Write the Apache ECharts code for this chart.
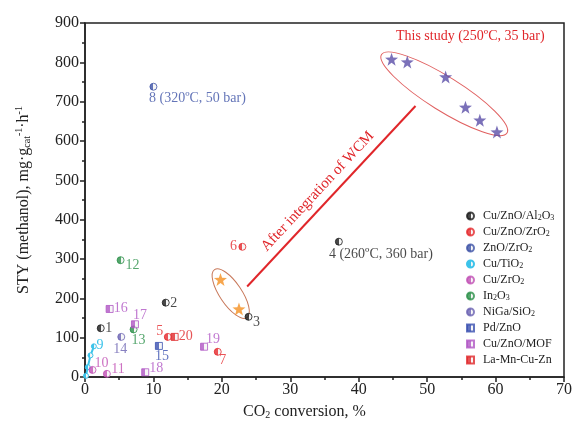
<!DOCTYPE html>
<html>
<head>
<meta charset="utf-8">
<script src="https://cdn.jsdelivr.net/npm/echarts@6/dist/echarts.min.js"></script>
<style>
html, body { margin: 0; padding: 0; background: #fff; }
#main { width: 575px; height: 425px; }
</style>
</head>
<body>
<div id="main"></div>
<script>
// [CO2 conversion %, STY, point number]
const cuZnOAl2O3 = [[2.3, 124, '1'], [11.8, 189, '2'], [23.9, 153, '3'], [37.1, 344, '4 (260ºC, 360 bar)']];
const cuZnOZrO2 = [[12.1, 102, '5'], [23.0, 331, '6'], [19.4, 64, '7']];
const znOZrO2 = [[10.0, 738, '8 (320ºC, 50 bar)']];
const cuTiO2 = [[0.15, 3], [0.4, 25], [0.8, 55], [1.3, 78]];
const cuZrO2 = [[1.1, 18, '10'], [3.2, 8, '11']];
const in2O3 = [[5.2, 297, '12'], [7.1, 121, '13']];
const niGaSiO2 = [[5.3, 102, '14']];
const pdZnO = [[10.8, 79, '15']];
const cuZnOMOF = [[3.6, 173, '16'], [7.3, 134, '17'], [8.8, 12, '18'], [17.4, 77, '19']];
const laMnCuZn = [[13.1, 102, '20']];
const thisStudy = [[44.8, 808], [47.1, 801], [52.7, 763], [55.6, 686], [57.7, 653], [60.2, 623]];
const beforeWCM = [[19.8, 248], [22.5, 173]];

const xTicks = [0, 10, 20, 30, 40, 50, 60, 70];
const yTicks = [0, 100, 200, 300, 400, 500, 600, 700, 800, 900];
const legendNames = ['Cu/ZnO/Al2O3', 'Cu/ZnO/ZrO2', 'ZnO/ZrO2', 'Cu/TiO2', 'Cu/ZrO2', 'In2O3', 'NiGa/SiO2', 'Pd/ZnO', 'Cu/ZnO/MOF', 'La-Mn-Cu-Zn'];

// label centre offset from the point (px)
const labelOffset = {
  '1': [8, 0], '2': [8, 1], '3': [8, 6], '4': [42, 13], '5': [-8, -6], '6': [-9, 0],
  '7': [5, 9], '8': [44, 12], '9': [6, -1], '10': [9, -7], '11': [11, -5], '12': [12, 5],
  '13': [5, 11], '14': [-1, 12], '15': [3, 10], '16': [11, -1], '17': [5, -9],
  '18': [11, -4], '19': [9, -7], '20': [11, -1]
};

const SERIF = '"Liberation Serif", "DejaVu Serif", serif';
const STAR = 'path://M0,-10L2.35,-3.24L9.51,-3.09L3.8,1.24L5.88,8.09L0,4L-5.88,8.09L-3.8,1.24L-9.51,-3.09L-2.35,-3.24Z';

function halfFill(color) {
  return new echarts.graphic.LinearGradient(0, 0, 1, 0, [
    { offset: 0, color: color },
    { offset: 0.5, color: color },
    { offset: 0.5, color: '#f4f4f4' },
    { offset: 1, color: '#f4f4f4' }
  ]);
}

function points(arr) {
  return arr.map(d => {
    const key = d[2] ? d[2].split(' ')[0] : null;
    return {
      value: [d[0], d[1]],
      name: d[2] || '',
      label: key ? { show: true, offset: labelOffset[key] } : { show: false }
    };
  });
}

function scatter(name, arr, color, symbol) {
  return {
    name: name,
    type: 'scatter',
    symbol: symbol || 'circle',
    symbolSize: 7,
    data: points(arr),
    itemStyle: { color: halfFill(color), borderColor: color, borderWidth: 1 },
    label: {
      position: 'inside',
      formatter: p => p.name,
      color: color,
      fontFamily: SERIF,
      fontSize: 14
    },
    z: 3
  };
}

const chart = echarts.init(document.getElementById('main'));

const option = {
  backgroundColor: '#fff',
  animation: false,
  grid: { left: 85, right: 8, top: 23, bottom: 48, show: true, borderColor: '#222', borderWidth: 1.5, backgroundColor: 'transparent' },
  legend: {
    orient: 'vertical',
    left: 461,
    top: 205,
    itemWidth: 7,
    itemHeight: 7,
    itemGap: 4,
    data: legendNames.map(n => ({ name: n, icon: n === 'Cu/TiO2' ? 'circle' : undefined })),
    formatter: n => n.replace(/(\d)/g, '{sub|$1}'),
    textStyle: {
      fontFamily: SERIF, fontSize: 12, color: '#222', padding: [0, 0, 0, 4],
      rich: { sub: { fontFamily: SERIF, fontSize: 8, padding: [4, 0, 0, 0] } }
    }
  },
  xAxis: {
    type: 'value',
    min: xTicks[0],
    max: xTicks[xTicks.length - 1],
    interval: 10,
    name: '{a|CO}{sub|2}{a| conversion, %}',
    nameLocation: 'middle',
    nameGap: 27,
    nameTextStyle: {
      padding: [0, 40, 0, 0],
      rich: {
        a: { fontFamily: SERIF, fontSize: 16, color: '#222' },
        sub: { fontFamily: SERIF, fontSize: 10, color: '#222', padding: [6, 0, 0, 0] }
      }
    },
    axisLine: { lineStyle: { color: '#222', width: 1.5 } },
    axisTick: { inside: false, length: 5, lineStyle: { color: '#222', width: 1.5 } },
    minorTick: { show: true, splitNumber: 2, length: 3, lineStyle: { color: '#222', width: 1.5 } },
    splitLine: { show: false },
    axisLabel: { fontFamily: SERIF, fontSize: 16, color: '#222', margin: 5 }
  },
  yAxis: {
    type: 'value',
    min: yTicks[0],
    max: yTicks[yTicks.length - 1],
    interval: 100,
    name: '{a|STY (methanol), mg·g}{sub|cat}{sup|-1}{a|·h}{sup|-1}',
    nameLocation: 'middle',
    nameGap: 52,
    nameTextStyle: {
      rich: {
        a: { fontFamily: SERIF, fontSize: 16, color: '#222' },
        sub: { fontFamily: SERIF, fontSize: 10, color: '#222', padding: [7, 0, 0, 0] },
        sup: { fontFamily: SERIF, fontSize: 10, color: '#222', padding: [0, 0, 9, 0] }
      }
    },
    axisLine: { show: true, lineStyle: { color: '#222', width: 1.5 } },
    axisTick: { show: true, inside: false, length: 5, lineStyle: { color: '#222', width: 1.5 } },
    minorTick: { show: true, splitNumber: 2, length: 3, lineStyle: { color: '#222', width: 1.5 } },
    splitLine: { show: false },
    axisLabel: { fontFamily: SERIF, fontSize: 16, color: '#222', margin: 6 }
  },
  series: [
    scatter('Cu/ZnO/Al2O3', cuZnOAl2O3, '#1a1a1a'),
    scatter('Cu/ZnO/ZrO2', cuZnOZrO2, '#e5282c'),
    scatter('ZnO/ZrO2', znOZrO2, '#3d53a6'),
    {
      name: 'Cu/TiO2',
      type: 'line',
      symbol: 'circle',
      symbolSize: 5,
      showSymbol: true,
      data: cuTiO2.map((d, i) => ({
        value: d,
        label: i === cuTiO2.length - 1 ? { show: true, offset: labelOffset['9'] } : { show: false }
      })),
      lineStyle: { color: '#3cc3ea', width: 2 },
      itemStyle: { color: halfFill('#3cc3ea'), borderColor: '#3cc3ea', borderWidth: 1 },
      label: { position: 'inside', formatter: '9', color: '#3cc3ea', fontFamily: SERIF, fontSize: 14 },
      z: 3
    },
    scatter('Cu/ZrO2', cuZrO2, '#c04fb4'),
    scatter('In2O3', in2O3, '#2a9048'),
    scatter('NiGa/SiO2', niGaSiO2, '#6a62b2'),
    scatter('Pd/ZnO', pdZnO, '#3a50b0', 'rect'),
    scatter('Cu/ZnO/MOF', cuZnOMOF, '#b056c4', 'rect'),
    scatter('La-Mn-Cu-Zn', laMnCuZn, '#e0282a', 'rect'),
    {
      name: 'This study',
      type: 'scatter',
      symbol: STAR,
      symbolSize: 13,
      data: thisStudy,
      itemStyle: { color: '#5a4ea8' },
      z: 4,
      markLine: {
        silent: true,
        symbol: ['none', 'arrow'],
        symbolSize: [0, 11],
        label: { show: false },
        lineStyle: { color: '#e0262a', width: 2, type: 'solid' },
        data: [[{ coord: [23.7, 230] }, { coord: [48.3, 689] }]]
      }
    },
    {
      name: 'Before WCM',
      type: 'scatter',
      symbol: STAR,
      symbolSize: 13,
      data: beforeWCM,
      itemStyle: { color: '#f59020' },
      z: 4
    },
    {
      // ellipses and annotation texts
      name: 'annotations',
      type: 'custom',
      silent: true,
      data: [[0]],
      renderItem: function (params, api) {
        const big = api.coord([52.5, 720]);
        const small = api.coord([21.3, 212]);
        const arrowText = api.coord([34.0, 472]);
        const studyText = api.coord([56.3, 865]);
        return {
          type: 'group',
          children: [
            {
              type: 'ellipse', x: big[0], y: big[1], rotation: -32 * Math.PI / 180,
              shape: { cx: 0, cy: 0, rx: 74, ry: 17 },
              style: { fill: 'none', stroke: '#e06060', lineWidth: 1 }
            },
            {
              type: 'ellipse', x: small[0], y: small[1], rotation: -56 * Math.PI / 180,
              shape: { cx: 0, cy: 0, rx: 29, ry: 11 },
              style: { fill: 'none', stroke: '#c8785a', lineWidth: 1 }
            },
            {
              type: 'text', x: arrowText[0], y: arrowText[1], rotation: 47 * Math.PI / 180,
              style: { text: 'After integration of WCM', fill: '#e0262a', fontFamily: SERIF, fontSize: 15, align: 'center', verticalAlign: 'middle' }
            },
            {
              type: 'text', x: studyText[0], y: studyText[1],
              style: { text: 'This study (250ºC, 35 bar)', fill: '#e0262a', fontFamily: SERIF, fontSize: 14, align: 'center', verticalAlign: 'middle' }
            }
          ]
        };
      },
      z: 2
    }
  ]
};

chart.setOption(option);
</script>
</body>
</html>
